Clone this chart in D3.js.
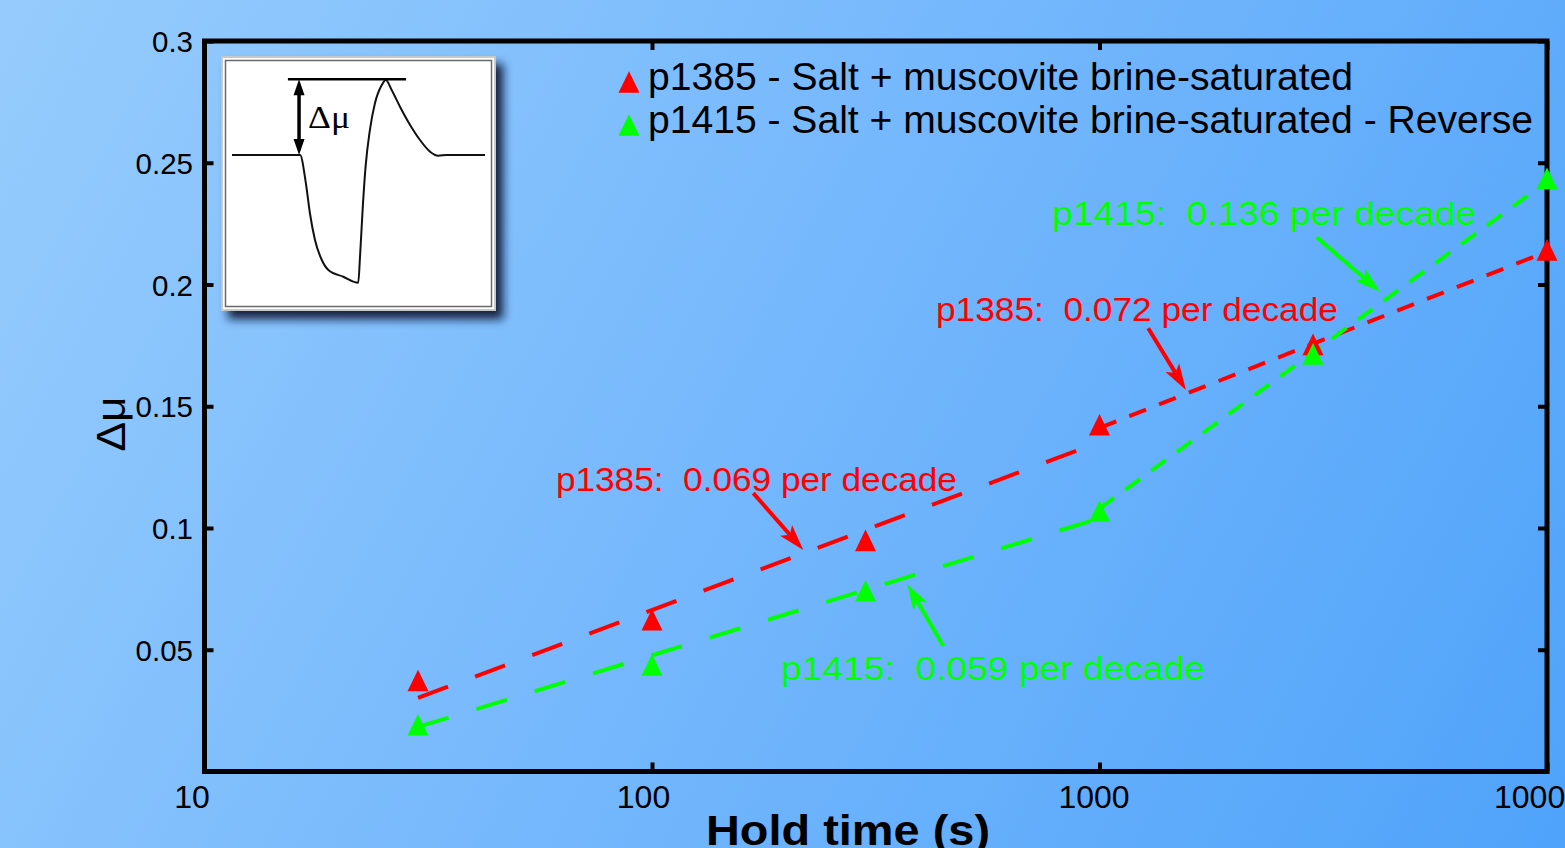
<!DOCTYPE html>
<html><head><meta charset="utf-8">
<script src="https://cdn.jsdelivr.net/npm/d3@7"></script>
<style>html,body{margin:0;padding:0;overflow:hidden;background:#7ab9fb}svg{display:block}</style>
</head><body>
<svg id="chart" width="1565" height="848"></svg>
<script>
// ---------- data ----------
const holdTimes = [30, 100, 300, 1000, 3000, 10000];
const p1385 = [0.0374, 0.0623, 0.0949, 0.1424, 0.1754, 0.2142];
const p1415 = [0.0192, 0.0438, 0.0742, 0.1070, 0.1715, 0.2436];
const fitP1385a = [[30, 0.0302], [1000, 0.1353]];
const fitP1385b = [[1000, 0.1411], [10000, 0.2135]];
const fitP1415a = [[30, 0.0183], [1000, 0.1040]];
const fitP1415b = [[1000, 0.1080], [10000, 0.2423]];
const xTicks = [10, 100, 1000, 10000];
const xTickLabels = ["10", "100", "1000", "10000"];
const yTicks = [0.05, 0.1, 0.15, 0.2, 0.25, 0.3];
const yTickLabels = ["0.05", "0.1", "0.15", "0.2", "0.25", "0.3"];
const seriesNames = ["p1385 - Salt + muscovite brine-saturated",
                     "p1415 - Salt + muscovite brine-saturated - Reverse"];
const annotationTexts = ["p1385:  0.069 per decade", "p1385:  0.072 per decade",
                         "p1415:  0.136 per decade", "p1415:  0.059 per decade"];
// annotation anchors in data space: text left/baseline, arrow tail, arrow tip
const annotationText = [[61, 0.1152], [431, 0.1852], [783, 0.2244], [194, 0.0376]];
const annotationTail = [[168.4, 0.1143], [1285, 0.1820], [3058, 0.2194], [447.7, 0.0515]];
const annotationTip  = [[217.8, 0.0910], [1560, 0.1567], [4235, 0.1970], [372, 0.0770]];
// inset sketch (normalised time 0-100, normalised friction)
const insetCurve = [[0,0],[26.9,0],[29.2,-0.377],[30.8,-0.777],[32.8,-1.133],[35.5,-1.4],
  [38.1,-1.533],[44.0,-1.623],[49.9,-1.703],[50.6,-1.356],[51.7,-0.689],[52.8,-0.156],
  [54.5,0.333],[56.5,0.689],[59.2,0.933],[60.8,1],[63.1,0.867],[66.4,0.644],[70.4,0.4],
  [74.3,0.2],[78.3,0.044],[81.5,-0.009],[84.9,0],[100,0]];

// ---------- layout ----------
const FONT = "'Liberation Sans', Arial, sans-serif";
const RED = "#ff0000", GREEN = "#00ff00";
const svg = d3.select("#chart");
const L = 204.5, R = 1547, T = 41, B = 771.5;
const x = d3.scaleLog().domain([10, 10000]).range([L, R]);
const y = d3.scaleLinear().domain([0, 0.3]).range([B, T]);

const defs = svg.append("defs");
const grad = defs.append("linearGradient").attr("id", "bg")
  .attr("gradientUnits", "userSpaceOnUse").attr("x1", 0).attr("y1", 0).attr("x2", 1565).attr("y2", 848);
grad.append("stop").attr("offset", 0).attr("stop-color", "#96ccfc");
grad.append("stop").attr("offset", 0.5).attr("stop-color", "#74b7fc");
grad.append("stop").attr("offset", 1).attr("stop-color", "#4fa3fa");
const sh = defs.append("filter").attr("id", "shadow").attr("x", "-20%").attr("y", "-20%").attr("width", "150%").attr("height", "150%");
sh.append("feDropShadow").attr("dx", 7).attr("dy", 8).attr("stdDeviation", 5)
  .attr("flood-color", "#0b1836").attr("flood-opacity", 0.95);

svg.append("rect").attr("width", 1565).attr("height", 848).attr("fill", "url(#bg)");

function stretch(sel, w) {
  sel.attr("textLength", w).attr("lengthAdjust", "spacingAndGlyphs");
}
function arrow(g, x1, y1, x2, y2, color, headLen, hw, lw) {
  const dx = x2 - x1, dy = y2 - y1, len = Math.hypot(dx, dy);
  const ux = dx / len, uy = dy / len, px = -uy, py = ux;
  const bx = x2 - ux * headLen, by = y2 - uy * headLen;
  const nx = x2 - ux * headLen * 0.78, ny = y2 - uy * headLen * 0.78;
  g.append("line").attr("x1", x1).attr("y1", y1).attr("x2", nx).attr("y2", ny)
    .attr("stroke", color).attr("stroke-width", lw);
  g.append("path").attr("d", `M${x2},${y2}L${bx + px * hw},${by + py * hw}L${nx},${ny}L${bx - px * hw},${by - py * hw}Z`)
    .attr("fill", color);
}

// ---------- axes ----------
const tickFmtX = (d, i) => xTickLabels[i];
const tickFmtY = (d, i) => yTickLabels[i];
const gxB = svg.append("g").attr("transform", `translate(0,${B})`)
  .call(d3.axisBottom(x).tickValues(xTicks).tickFormat(tickFmtX).tickSize(-9).tickPadding(24));
const gxT = svg.append("g").attr("transform", `translate(0,${T})`)
  .call(d3.axisTop(x).tickValues(xTicks).tickFormat("").tickSize(-9));
const gyL = svg.append("g").attr("transform", `translate(${L},0)`)
  .call(d3.axisLeft(y).tickValues(yTicks).tickFormat(tickFmtY).tickSize(-9).tickPadding(11));
const gyR = svg.append("g").attr("transform", `translate(${R},0)`)
  .call(d3.axisRight(y).tickValues(yTicks).tickFormat("").tickSize(-9));
[gxB, gxT, gyL, gyR].forEach(g => {
  g.select(".domain").remove();
  g.selectAll(".tick line").attr("stroke", "#000").attr("stroke-width", 4);
});
gxB.selectAll(".tick text").attr("font-family", FONT).style("font-size", "32px").attr("fill", "#000")
  .attr("dx", (d, i) => [-13, -9, -6, -9][i]).attr("dy", 0).attr("y", 36);
gyL.selectAll(".tick text").attr("font-family", FONT).style("font-size", "29.5px").attr("fill", "#000")
  .attr("dy", "0.36em").attr("x", -11.5);

// frame
svg.append("rect").attr("x", L).attr("y", T).attr("width", R - L).attr("height", B - T)
  .attr("fill", "none").attr("stroke", "#000").attr("stroke-width", 5);

// axis titles
svg.append("text").attr("x", 848).attr("y", 845).attr("text-anchor", "middle")
  .attr("font-family", FONT).attr("font-weight", "bold").attr("font-size", 42)
  .text("Hold time (s)").call(stretch, 284);
svg.append("text").attr("transform", "translate(125,424) rotate(-90)").attr("text-anchor", "middle")
  .attr("font-family", FONT).attr("font-size", 40).text("Δμ").call(stretch, 55);

// ---------- fit lines ----------
const line = d3.line().x(d => x(d[0])).y(d => y(d[1]));
const fits = [
  {d: fitP1385a, c: RED, dash: "32,29"},
  {d: fitP1415a, c: GREEN, dash: "32,29"},
  {d: fitP1385b, c: RED, dash: "18,14"},
  {d: fitP1415b, c: GREEN, dash: "18,14"}
];
svg.append("g").selectAll("path").data(fits).join("path")
  .attr("d", f => line(f.d)).attr("fill", "none").attr("stroke", f => f.c)
  .attr("stroke-width", 4).attr("stroke-dasharray", f => f.dash);

// ---------- markers ----------
const tri = "M0,-10.8L10.5,10.8L-10.5,10.8Z";
const series = [{v: p1385, c: RED}, {v: p1415, c: GREEN}];
series.forEach(s => {
  svg.append("g").selectAll("path").data(holdTimes).join("path")
    .attr("d", tri).attr("fill", s.c)
    .attr("transform", (d, i) => `translate(${x(d)},${y(s.v[i])})`);
});

// ---------- annotations ----------
const annColors = [RED, RED, GREEN, GREEN];
const annWidths = [401, 402, 424, 424];
const ag = svg.append("g");
annotationTexts.forEach((t, i) => {
  ag.append("text").attr("x", x(annotationText[i][0])).attr("y", y(annotationText[i][1]))
    .attr("font-family", FONT).attr("font-size", 34).attr("fill", annColors[i])
    .attr("xml:space", "preserve").style("white-space", "pre")
    .text(t).call(stretch, annWidths[i]);
  arrow(ag, x(annotationTail[i][0]), y(annotationTail[i][1]),
        x(annotationTip[i][0]), y(annotationTip[i][1]), annColors[i], 26, 8, 4);
});

// ---------- legend ----------
const lg = svg.append("g");
seriesNames.forEach((n, i) => {
  const cy = 82 + i * 43;
  lg.append("path").attr("d", tri).attr("fill", series[i].c)
    .attr("transform", `translate(629,${cy})`);
  lg.append("text").attr("x", 648).attr("y", cy + 8).attr("font-family", FONT)
    .attr("font-size", 38).attr("fill", "#000").text(n).call(stretch, i === 0 ? 705 : 885);
});

// ---------- inset ----------
const ig = svg.append("g");
ig.append("rect").attr("x", 222).attr("y", 57).attr("width", 273).attr("height", 253)
  .attr("fill", "#fff").attr("stroke", "#c8c8c8").attr("stroke-width", 2).attr("filter", "url(#shadow)");
ig.append("rect").attr("x", 225.5).attr("y", 60.5).attr("width", 266).attr("height", 246)
  .attr("fill", "none").attr("stroke", "#6a6a6a").attr("stroke-width", 1.5);
const ix = d3.scaleLinear().domain([0, 100]).range([232, 485]);
const iy = d3.scaleLinear().domain([0, 1]).range([155, 80]);
ig.append("path").attr("d", d3.line().x(d => ix(d[0])).y(d => iy(d[1])).curve(d3.curveMonotoneX)(insetCurve))
  .attr("fill", "none").attr("stroke", "#111").attr("stroke-width", 2);
ig.append("line").attr("x1", ix(22.1)).attr("x2", ix(68.8)).attr("y1", iy(1.01)).attr("y2", iy(1.01))
  .attr("stroke", "#000").attr("stroke-width", 2.5);
const ax = ix(26.5);
ig.append("line").attr("x1", ax).attr("x2", ax).attr("y1", iy(1.01) + 10).attr("y2", iy(0) - 10)
  .attr("stroke", "#000").attr("stroke-width", 3.5);
ig.append("path").attr("d", `M${ax},${iy(1.01)}L${ax + 5.5},${iy(1.01) + 16}L${ax - 5.5},${iy(1.01) + 16}Z`).attr("fill", "#000");
ig.append("path").attr("d", `M${ax},${iy(0)}L${ax + 5.5},${iy(0) - 16}L${ax - 5.5},${iy(0) - 16}Z`).attr("fill", "#000");
ig.append("text").attr("x", 308).attr("y", 128).attr("font-family", "'Liberation Serif', 'Times New Roman', serif")
  .attr("font-size", 32).attr("fill", "#000").text("Δμ").call(stretch, 42);
</script>
</body></html>
